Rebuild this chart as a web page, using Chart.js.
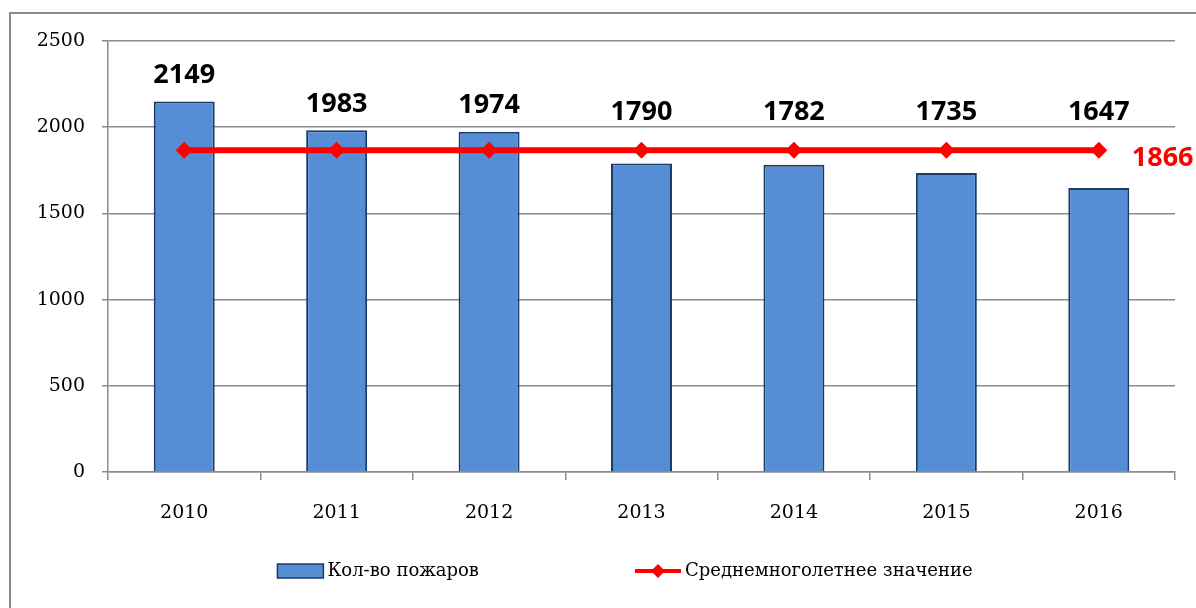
<!DOCTYPE html>
<html lang="ru">
<head>
<meta charset="utf-8">
<title>Кол-во пожаров</title>
<script src="https://cdn.jsdelivr.net/npm/chart.js@4/dist/chart.umd.min.js"></script>
<style>
    html, body { margin: 0; padding: 0; background: #fff; overflow: hidden; }
    #frame {
        position: absolute; left: 9px; top: 12px;
        width: 1400px; height: 800px;
        border-left: 2px solid #8a8a8a; border-top: 2px solid #8a8a8a;
    }
    #wrap { position: absolute; left: 0; top: 0; width: 1250px; height: 608px; }
</style>
</head>
<body>
<div id="frame"></div>
<div id="wrap"><canvas id="firesChart"></canvas></div>
<script>
// Данные графика
const years = ['2010', '2011', '2012', '2013', '2014', '2015', '2016'];
const fires = [2149, 1983, 1974, 1790, 1782, 1735, 1647];
const average = [1866, 1866, 1866, 1866, 1866, 1866, 1866];
const yTicks = [0, 500, 1000, 1500, 2000, 2500];

const barColor = '#558ed5';
const barBorder = '#1c3a68';
const lineColor = '#ff0000';
const gridColor = '#8c8c8c';
const serif = '"DejaVu Serif", "Liberation Serif", serif';
const sans = '"Open Sans", "Noto Sans", sans-serif';

Chart.defaults.color = '#000';

// индексы наборов данных
const BAR = 0, LINE = 1;

// Подписи значений над столбцами и у линии
const valueLabels = {
    id: 'valueLabels',
    afterDatasetsDraw(chart) {
        const ctx = chart.ctx;
        const y = chart.scales.y;
        const bars = chart.getDatasetMeta(BAR).data;
        const pts = chart.getDatasetMeta(LINE).data;
        ctx.save();
        ctx.font = 'bold 27px ' + sans;
        ctx.textAlign = 'center';
        ctx.textBaseline = 'middle';
        ctx.fillStyle = '#000';
        bars.forEach((bar, i) => {
            const v = fires[i];
            const top = y.getPixelForValue(Math.max(v, average[i]));
            ctx.fillText(String(v), bar.x, top - (v > average[i] ? 26 : 38));
        });
        const last = pts[pts.length - 1];
        ctx.fillStyle = lineColor;
        ctx.textAlign = 'left';
        ctx.fillText(String(average[average.length - 1]), last.x + 33, last.y + 8);
        ctx.restore();
    }
};

// Легенда внизу
const bottomLegend = {
    id: 'bottomLegend',
    afterDraw(chart) {
        const ctx = chart.ctx;
        const ds = chart.data.datasets;
        const cy = 571;
        const gap = 156;
        ctx.save();
        ctx.font = '18px ' + serif;
        ctx.textBaseline = 'middle';
        const w0 = 50 + ctx.measureText(ds[BAR].label).width;
        const w1 = 50 + ctx.measureText(ds[LINE].label).width;
        let x = chart.width / 2 - (w0 + gap + w1) / 2;

        ctx.fillStyle = barColor;
        ctx.strokeStyle = barBorder;
        ctx.lineWidth = 1.5;
        ctx.fillRect(x, cy - 7, 46, 14);
        ctx.strokeRect(x, cy - 7, 46, 14);
        ctx.fillStyle = '#000';
        ctx.fillText(ds[BAR].label, x + 50, cy);

        x += w0 + gap;
        ctx.strokeStyle = lineColor;
        ctx.lineWidth = 4;
        ctx.beginPath();
        ctx.moveTo(x, cy);
        ctx.lineTo(x + 46, cy);
        ctx.stroke();
        ctx.fillStyle = lineColor;
        ctx.beginPath();
        ctx.moveTo(x + 23, cy - 7);
        ctx.lineTo(x + 30, cy);
        ctx.lineTo(x + 23, cy + 7);
        ctx.lineTo(x + 16, cy);
        ctx.closePath();
        ctx.fill();
        ctx.fillStyle = '#000';
        ctx.fillText(ds[LINE].label, x + 50, cy);
        ctx.restore();
    }
};

new Chart(document.getElementById('firesChart'), {
    data: {
        labels: years,
        datasets: [
            {
                type: 'bar',
                label: 'Кол-во пожаров',
                data: fires,
                backgroundColor: barColor,
                borderColor: barBorder,
                borderWidth: 2,
                categoryPercentage: 1,
                barPercentage: 0.4,
                order: 1
            },
            {
                type: 'line',
                label: 'Среднемноголетнее значение',
                data: average,
                borderColor: lineColor,
                backgroundColor: lineColor,
                borderWidth: 6,
                pointStyle: 'rectRot',
                pointRadius: 8.5,
                pointBorderWidth: 0,
                pointBackgroundColor: lineColor,
                order: 0
            }
        ]
    },
    options: {
        responsive: true,
        maintainAspectRatio: false,
        animation: false,
        layout: { padding: { left: 10, right: 75, top: 41, bottom: 76 } },
        plugins: {
            legend: { display: false },
            tooltip: { enabled: false }
        },
        scales: {
            x: {
                offset: true,
                grid: { drawOnChartArea: false, drawTicks: true, tickLength: 8, color: gridColor, lineWidth: 1.5 },
                border: { color: gridColor, width: 1.5 },
                ticks: { font: { family: serif, size: 19 }, padding: 22, color: '#000' },
                afterFit: (scale) => { scale.height = 60; }
            },
            y: {
                min: 0,
                max: 2500,
                afterBuildTicks: (scale) => { scale.ticks = yTicks.map(v => ({ value: v })); },
                grid: { color: gridColor, lineWidth: 1.5, tickLength: 6 },
                border: { color: gridColor, width: 1.5 },
                ticks: {
                    font: { family: serif, size: 19 },
                    padding: 17,
                    color: '#000',
                    callback: (v) => String(v)
                },
                afterFit: (scale) => { scale.width = 98; }
            }
        }
    },
    plugins: [valueLabels, bottomLegend]
});
</script>
</body>
</html>
